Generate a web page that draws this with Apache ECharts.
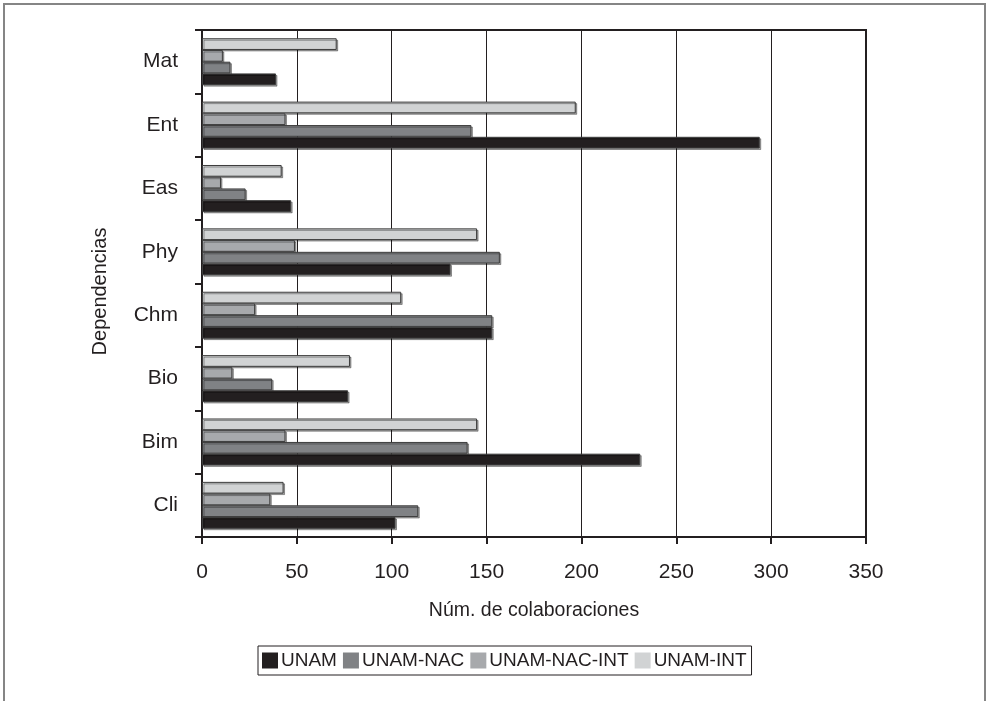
<!DOCTYPE html>
<html>
<head>
<meta charset="utf-8">
<script src="https://cdn.jsdelivr.net/npm/echarts@6/dist/echarts.min.js"></script>
<style>
html,body{margin:0;padding:0;background:#fff;}
#c{width:992px;height:701px;}
</style>
</head>
<body>
<div id="c"></div>
<script>
var categories = ['Cli', 'Bim', 'Bio', 'Chm', 'Phy', 'Eas', 'Ent', 'Mat'];
var unam       = [102, 231, 77, 153, 131, 47, 294, 39];
var unamNac    = [114, 140, 37, 153, 157, 23, 142, 15];
var unamNacInt = [36, 44, 16, 28, 49, 10, 44, 11];
var unamInt    = [43, 145, 78, 105, 145, 42, 197, 71];
var seriesNames = ['UNAM', 'UNAM-NAC', 'UNAM-NAC-INT', 'UNAM-INT'];
var xTicks = [0, 50, 100, 150, 200, 250, 300, 350];

var colors = ['#231f20', '#808285', '#a7a9ac', '#d1d3d4'];
var values = [unam, unamNac, unamNacInt, unamInt];
var font = 'Liberation Sans, Arial, Helvetica, sans-serif';

var chart = echarts.init(document.getElementById('c'), null, {renderer: 'canvas'});
var series = seriesNames.map(function (n, i) {
  return {
    name: n,
    type: 'bar',
    data: values[i],
    barGap: '0%',
    barCategoryGap: '26%',
    itemStyle: {
      color: colors[i],
      borderColor: '#3c3c3c',
      borderWidth: 1,
      shadowColor: 'rgba(0,0,0,0.35)',
      shadowOffsetX: 1.5,
      shadowOffsetY: 1.5,
      shadowBlur: 0
    },
    emphasis: {disabled: true},
    animation: false
  };
}).reverse();

chart.setOption({
  animation: false,
  backgroundColor: '#fff',
  graphic: [{
    type: 'rect',
    shape: {x: 4, y: 4, width: 981, height: 720},
    style: {fill: 'none', stroke: '#858585', lineWidth: 2},
    silent: true
  }],
  grid: {
    left: 202, right: 126, top: 30, bottom: 164,
    show: true, borderColor: '#231f20', borderWidth: 2, backgroundColor: 'transparent'
  },
  legend: {
    data: seriesNames,
    left: 258, top: 646,
    orient: 'horizontal',
    itemWidth: 16, itemHeight: 16,
    itemGap: 6,
    borderColor: '#231f20', borderWidth: 1,
    padding: [5, 5, 5, 4],
    icon: 'rect',
    itemStyle: {borderWidth: 0, shadowBlur: 0, shadowOffsetX: 0, shadowOffsetY: 0},
    textStyle: {fontFamily: font, fontSize: 19, color: '#231f20', padding: [0, 0, 0, -2]},
    selectedMode: false
  },
  xAxis: {
    type: 'value',
    min: 0, max: 350, interval: 50,
    name: 'Núm. de colaboraciones',
    nameLocation: 'middle',
    nameGap: 64,
    nameTextStyle: {fontFamily: font, fontSize: 19.5, color: '#231f20'},
    axisLine: {show: true, lineStyle: {color: '#231f20', width: 2}},
    axisTick: {show: true, length: 7, inside: false, lineStyle: {color: '#231f20', width: 2}},
    axisLabel: {
      fontFamily: font, fontSize: 21, color: '#231f20', margin: 25,
      formatter: function (v) { return xTicks.indexOf(v) >= 0 ? String(v) : ''; }
    },
    splitLine: {show: true, lineStyle: {color: '#231f20', width: 1}}
  },
  yAxis: {
    type: 'category',
    data: categories,
    name: 'Dependencias',
    nameLocation: 'middle',
    nameGap: 92,
    nameTextStyle: {fontFamily: font, fontSize: 20, color: '#231f20', padding: [0, 16, 0, 0]},
    axisLine: {show: true, lineStyle: {color: '#231f20', width: 2}},
    axisTick: {show: true, length: 7, inside: false, alignWithLabel: false, lineStyle: {color: '#231f20', width: 2}},
    axisLabel: {fontFamily: font, fontSize: 21, color: '#231f20', margin: 24},
    splitLine: {show: false}
  },
  series: series
});
</script>
</body>
</html>
